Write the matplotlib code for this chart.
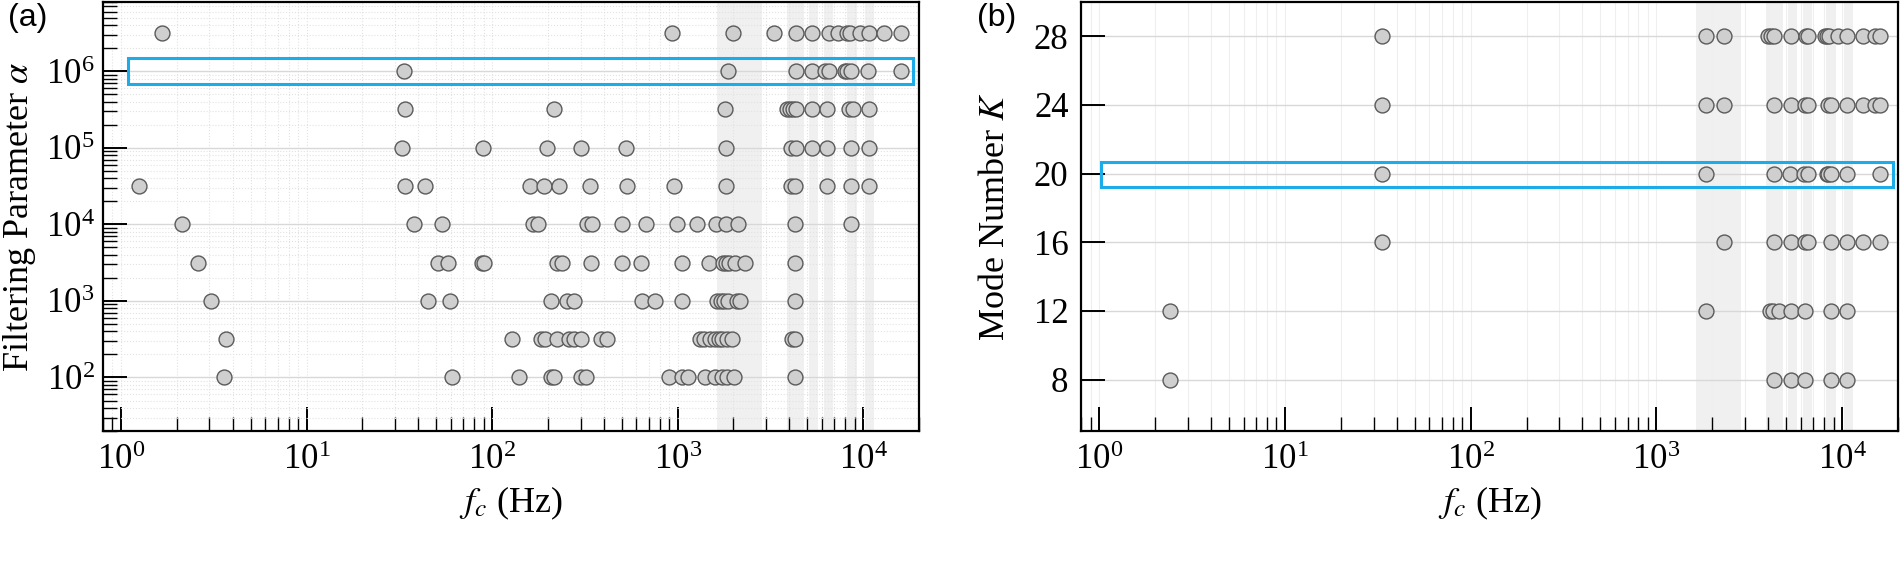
import matplotlib
matplotlib.use('Agg')
import matplotlib.pyplot as plt
from matplotlib.patches import Rectangle
from matplotlib.ticker import LogLocator, NullFormatter
import numpy as np

plt.rcParams['font.family'] = ['Liberation Serif', 'DejaVu Serif']
plt.rcParams['mathtext.fontset'] = 'stix'

# (a) filtering parameter alpha vs centre frequency, one list per alpha level
alpha_levels = [1e2, 10**2.5, 1e3, 10**3.5, 1e4, 10**4.5, 1e5, 10**5.5, 1e6, 10**6.5]
fc_alpha_1e2 = [3.61, 60.6, 140, 209, 215, 300, 319, 897, 1050, 1140, 1403, 1600, 1738, 1849, 2010, 4290]
fc_alpha_3e2 = [3.66, 128, 183, 194, 225, 259, 276, 300, 385, 417, 1312, 1384, 1503, 1585, 1667, 1738,
                1849, 1965, 4140, 4290]
fc_alpha_1e3 = [3.05, 45.4, 59.3, 208, 254, 276, 644, 751, 1057, 1633, 1703, 1775, 1871, 2090, 2180, 4290]
fc_alpha_3e3 = [2.6, 51.3, 57.6, 88, 91, 223, 237, 340, 499, 631, 1050, 1473, 1750, 1830, 1890, 2050,
                2300, 4290]
fc_alpha_1e4 = [2.12, 38, 54, 167, 177, 326, 346, 502, 677, 998, 1265, 1612, 1834, 2110, 4290, 8600]
fc_alpha_3e4 = [1.25, 34.0, 43.4, 160, 190, 229, 336, 531, 961, 1834, 4060, 4310, 6380, 8640, 10710]
fc_alpha_1e5 = [32.8, 89.3, 197, 301, 524, 1834, 4100, 4360, 5300, 6380, 8640, 10710]
fc_alpha_3e5 = [33.8, 215, 1811, 3900, 4050, 4200, 4360, 5300, 6380, 8360, 8770, 10710]
fc_alpha_1e6 = [33.4, 1864, 4360, 5300, 6260, 6570, 7950, 8180, 8640, 10610, 16070]
fc_alpha_3e6 = [1.67, 934, 1990, 3300, 4360, 5300, 6570, 7290, 8180, 8530, 9570, 10710, 13000, 16070]
fc_alpha = [fc_alpha_1e2, fc_alpha_3e2, fc_alpha_1e3, fc_alpha_3e3, fc_alpha_1e4,
            fc_alpha_3e4, fc_alpha_1e5, fc_alpha_3e5, fc_alpha_1e6, fc_alpha_3e6]

# (b) mode number K vs centre frequency
k_levels = [8, 12, 16, 20, 24, 28]
fc_k8 = [2.42, 4300, 5290, 6300, 8730, 10660]
fc_k12 = [2.42, 1841, 4087, 4260, 4560, 5290, 6330, 8730, 10660]
fc_k16 = [33.5, 2312, 4300, 5290, 6300, 6570, 8730, 10660, 12900, 15970]
fc_k20 = [33.5, 1841, 4300, 5240, 6230, 6570, 8250, 8420, 8730, 10660, 15970]
fc_k24 = [33.5, 1841, 2312, 4300, 5290, 6300, 6570, 8420, 8730, 10660, 12900, 15000, 15970]
fc_k28 = [33.5, 1841, 2312, 4000, 4150, 4315, 5290, 6385, 6570, 8080, 8250, 8530, 9530, 10660,
          12900, 15000, 15970]
fc_k = [fc_k8, fc_k12, fc_k16, fc_k20, fc_k24, fc_k28]

# shaded frequency bands (Hz)
bands = [(1634, 2840), (3890, 4785), (5130, 5690), (6180, 6850), (8150, 9250), (10200, 11500)]

# highlighted rows (blue boxes): x0, x1, y0, y1
box_a = (1.09, 18500, 6.9e5, 1.49e6)
box_b = (1.03, 18700, 19.2, 20.7)

blue = '#1cade8'
fill = '#cfcfcf'
edge = '#5a5a5a'

fig = plt.figure(figsize=(19, 5.61), dpi=100)
ax_a = fig.add_axes([0.0542, 0.2317, 0.4295, 0.7647])
ax_b = fig.add_axes([0.5690, 0.2317, 0.4300, 0.7647])

ax_a.set_yscale('log')
for ax in (ax_a, ax_b):
    ax.set_xscale('log')
    ax.set_xlim(0.8, 2e4)
    for lo, hi in bands:
        ax.axvspan(lo, hi, color='#f0f0f0', lw=0, zorder=0)
    ax.set_xlabel(r'$f_c$ (Hz)', fontsize=26)
    ax.xaxis.set_label_coords(0.5, -0.125)
    ax.xaxis.set_minor_locator(LogLocator(base=10, subs=np.arange(2, 10), numticks=20))
    ax.xaxis.set_minor_formatter(NullFormatter())
    ax.tick_params(which='major', direction='in', length=17, width=1.4, labelsize=25)
    ax.tick_params(which='minor', direction='in', length=10, width=1.0)
    ax.tick_params(axis='x', which='major', pad=9)
    ax.tick_params(top=False, right=False)
    for s in ax.spines.values():
        s.set_linewidth(1.6)
    ax.set_axisbelow(True)

# panel (a)
for lvl, fcs in zip(alpha_levels, fc_alpha):
    ax_a.scatter(fcs, [lvl] * len(fcs), s=115, c=fill, edgecolors=edge, linewidths=1.0, zorder=3)
ax_a.set_ylim(20, 8e6)
ax_a.yaxis.set_minor_locator(LogLocator(base=10, subs=np.arange(2, 10), numticks=20))
ax_a.yaxis.set_minor_formatter(NullFormatter())
ax_a.tick_params(axis='y', which='major', pad=6)
ax_a.grid(True, which='major', axis='y', color='#d8d8d8', lw=1.0, ls='-')
ax_a.grid(True, which='major', axis='x', color='#e2e2e2', lw=0.8, ls=':')
ax_a.grid(True, which='minor', axis='both', color='#e2e2e2', lw=0.8, ls=':')
ax_a.set_ylabel(r'Filtering Parameter $\alpha$', fontsize=26)
ax_a.yaxis.set_label_coords(-0.080, 0.5)
x0, x1, y0, y1 = box_a
ax_a.add_patch(Rectangle((x0, y0), x1 - x0, y1 - y0, fill=False, ec=blue, lw=2.2, zorder=4))

# panel (b)
for lvl, fcs in zip(k_levels, fc_k):
    ax_b.scatter(fcs, [lvl] * len(fcs), s=115, c=fill, edgecolors=edge, linewidths=1.0, zorder=3)
ax_b.set_ylim(5, 30)
ax_b.set_yticks(k_levels)
ax_b.tick_params(axis='y', which='major', pad=9)
ax_b.grid(True, which='major', axis='y', color='#d8d8d8', lw=1.0, ls='-')
ax_b.grid(True, which='both', axis='x', color='#efefef', lw=0.8, ls='-')
ax_b.set_ylabel(r'Mode Number $K$', fontsize=26)
ax_b.yaxis.set_label_coords(-0.085, 0.5)
x0, x1, y0, y1 = box_b
ax_b.add_patch(Rectangle((x0, y0), x1 - x0, y1 - y0, fill=False, ec=blue, lw=2.2, zorder=4))

fig.text(0.004, 0.995, '(a)', fontsize=23, family=['Liberation Sans', 'DejaVu Sans'], va='top', ha='left')
fig.text(0.514, 0.995, '(b)', fontsize=23, family=['Liberation Sans', 'DejaVu Sans'], va='top', ha='left')

fig.savefig('out.png', dpi=100)
